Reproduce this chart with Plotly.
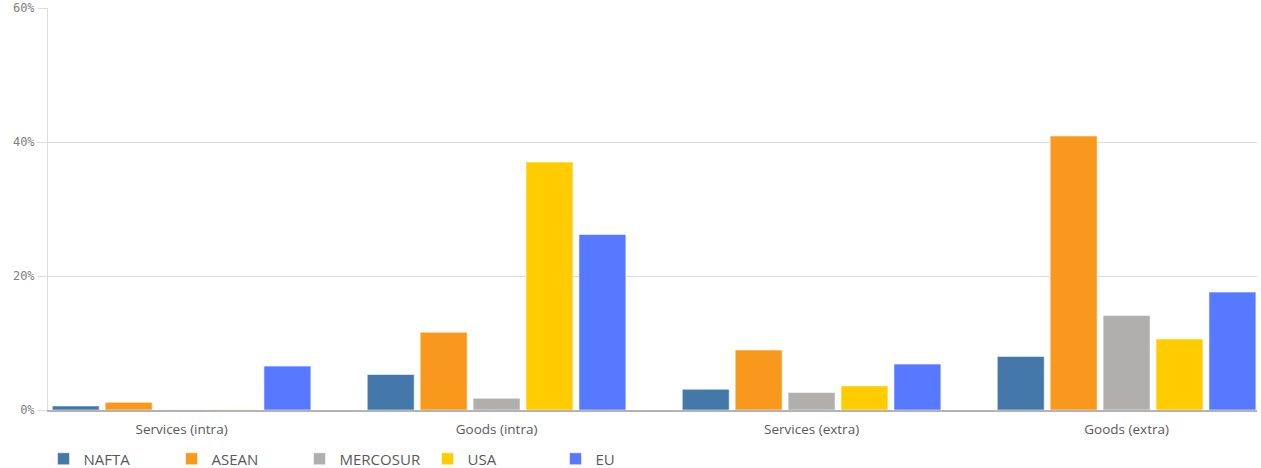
import plotly.graph_objects as go

categories = ["Services (intra)", "Goods (intra)", "Services (extra)", "Goods (extra)"]
series_names = ["NAFTA", "ASEAN", "MERCOSUR", "USA", "EU"]
nafta = [0.6, 5.3, 3.1, 8.0]
asean = [1.15, 11.6, 8.95, 40.9]
mercosur = [0.05, 1.75, 2.6, 14.1]
usa = [0.05, 37.0, 3.6, 10.6]
eu = [6.55, 26.2, 6.85, 17.6]
y_ticks = [0, 20, 40, 60]
y_tick_labels = ["0%", "20%", "40%", "60%"]

colors = ["#4477AA", "#F8981D", "#B0AFAE", "#FFCC00", "#5779FF"]
values = [nafta, asean, mercosur, usa, eu]

fig = go.Figure()
for name, vals, col in zip(series_names, values, colors):
    fig.add_trace(go.Bar(
        x=categories, y=vals, name=name,
        marker=dict(color=col, line=dict(color="rgba(255,255,255,0.55)", width=1)),
        hovertemplate="%{x}<br>" + name + ": %{y:.1f}%<extra></extra>",
    ))

fig.update_layout(
    width=1261, height=468,
    margin=dict(l=48, r=4, t=8, b=58, autoexpand=False),
    barmode="group", bargap=0.16, bargroupgap=0.113,
    plot_bgcolor="white", paper_bgcolor="white",
    font=dict(family="Open Sans", color="#595959", size=12),
    legend=dict(
        orientation="h", x=-0.0037, xanchor="left", y=-0.122, yanchor="middle",
        entrywidth=83, entrywidthmode="pixels",
        font=dict(family="Open Sans", size=15, color="#595959"),
        itemclick=False, itemdoubleclick=False,
    ),
    xaxis=dict(
        range=[-0.424, 3.414], showgrid=False, ticks="",
        showline=True, linecolor="#b3b3b3", linewidth=2,
        tickfont=dict(family="Open Sans", size=13.5, color="#595959"),
        ticklabelstandoff=6, automargin=False,
        fixedrange=True,
    ),
    yaxis=dict(
        range=[0, 60], tickmode="array", tickvals=y_ticks, ticktext=y_tick_labels,
        showgrid=True, gridcolor="#dcdcdc", gridwidth=1,
        ticks="outside", ticklen=10, tickcolor="#dcdcdc",
        showline=True, linecolor="#dcdcdc", linewidth=1,
        zeroline=False, automargin=False,
        tickfont=dict(family="DejaVu Sans Mono", size=12, color="#808080"),
        fixedrange=True,
    ),
)

fig.write_html(
    "out.html",
    config={"displayModeBar": False},
    post_script="document.body.style.margin='0';document.body.style.padding='0';document.body.style.overflow='hidden';",
)
